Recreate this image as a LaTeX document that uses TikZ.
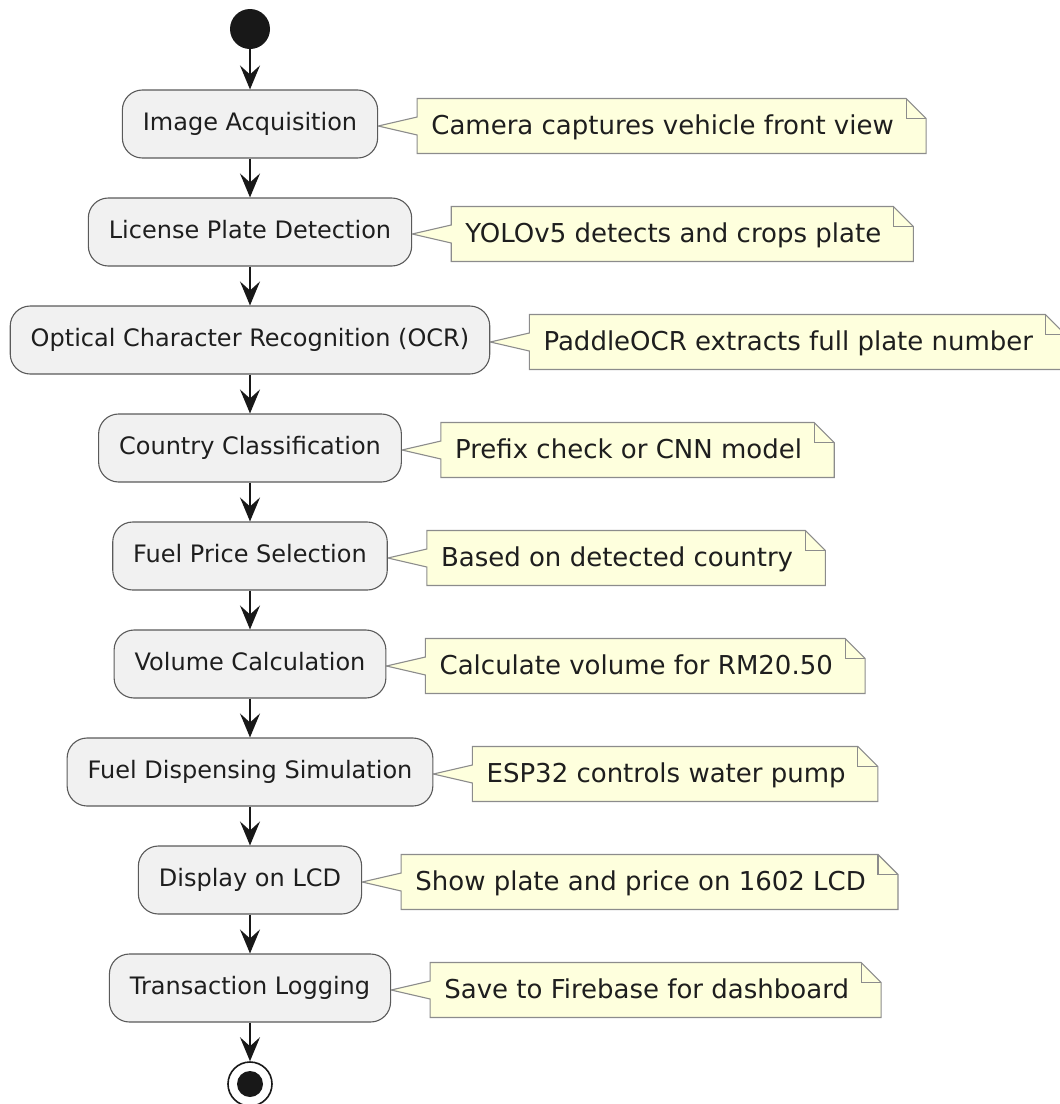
\documentclass[tikz,border=0pt]{standalone}
\usepackage{fontspec}
\setmainfont{DejaVu Sans}
\usetikzlibrary{arrows.meta,backgrounds}

\definecolor{actfill}{HTML}{F1F1F1}
\definecolor{actline}{HTML}{5A5A5A}
\definecolor{notefill}{HTML}{FEFFDD}
\definecolor{noteline}{HTML}{8C8C8C}
\definecolor{ink}{HTML}{181818}
\definecolor{txt}{HTML}{1E1E1E}

\tikzset{
  activity/.style={draw=actline, fill=actfill, line width=1.1pt,
    rounded corners=20pt, minimum height=68pt, inner xsep=20.5pt, inner ysep=0pt,
    font=\fontsize{24}{28}\selectfont, text=txt, text height=18.2pt, text depth=5.8pt},
  notetext/.style={inner sep=0pt, minimum height=54.6pt,
    font=\fontsize{26}{30}\selectfont, text=txt, text height=19.8pt, text depth=2.6pt},
  notebox/.style={draw=noteline, fill=notefill, line width=1.1pt, line join=miter},
  notefold/.style={draw=noteline, line width=1.1pt},
  flow/.style={draw=ink, line width=1.6pt, -{Stealth[length=24pt,width=20pt,inset=9pt]}},
  startdot/.style={circle, fill=ink, minimum size=40pt, inner sep=0pt},
  endring/.style={circle, draw=ink, fill=white, line width=1.6pt, minimum size=44pt, inner sep=0pt},
  enddot/.style={circle, fill=ink, minimum size=26pt, inner sep=0pt},
}

% #1 note name, #2 activity it is attached to, #3 note text
\newcommand{\flownote}[3]{%
  \node[notetext, anchor=west] (#1) at ([xshift=53pt,yshift=-2pt]#2.east) {#3};
  \begin{scope}[on background layer]
    \draw[notebox]
      ([xshift=-14pt]#1.north west) -- ([xshift=12pt]#1.north east)
      -- ([xshift=32pt,yshift=-20pt]#1.north east) -- ([xshift=32pt]#1.south east)
      -- ([xshift=-14pt]#1.south west) -- ([xshift=-14pt,yshift=-9pt]#1.west)
      -- (#2.east |- #1.west) -- ([xshift=-14pt,yshift=9pt]#1.west) -- cycle;
  \end{scope}
  \draw[notefold] ([xshift=12pt]#1.north east) -- ([xshift=12pt,yshift=-20pt]#1.north east)
    -- ([xshift=32pt,yshift=-20pt]#1.north east);
}

\begin{document}
\begin{tikzpicture}[x=1pt,y=-1pt]
\useasboundingbox (0,0) rectangle (1060,1104);

\node[startdot] (start) at (250,29) {};

\node[activity] (a1) at (250,124) {Image Acquisition};
\node[activity] (a2) at (250,232) {License Plate Detection};
\node[activity] (a3) at (250,340) {Optical Character Recognition (OCR)};
\node[activity] (a4) at (250,448) {Country Classification};
\node[activity] (a5) at (250,556) {Fuel Price Selection};
\node[activity] (a6) at (250,664) {Volume Calculation};
\node[activity] (a7) at (250,772) {Fuel Dispensing Simulation};
\node[activity] (a8) at (250,880) {Display on LCD};
\node[activity] (a9) at (250,988) {Transaction Logging};

\node[endring] (stop) at (250,1084) {};
\node[enddot] (stopdot) at (stop.center) {};

\draw[flow] (start) -- (a1);
\draw[flow] (a1) -- (a2);
\draw[flow] (a2) -- (a3);
\draw[flow] (a3) -- (a4);
\draw[flow] (a4) -- (a5);
\draw[flow] (a5) -- (a6);
\draw[flow] (a6) -- (a7);
\draw[flow] (a7) -- (a8);
\draw[flow] (a8) -- (a9);
\draw[flow] (a9) -- (stop);

\flownote{n1}{a1}{Camera captures vehicle front view}
\flownote{n2}{a2}{YOLOv5 detects and crops plate}
\flownote{n3}{a3}{PaddleOCR extracts full plate number}
\flownote{n4}{a4}{Prefix check or CNN model}
\flownote{n5}{a5}{Based on detected country}
\flownote{n6}{a6}{Calculate volume for RM20.50}
\flownote{n7}{a7}{ESP32 controls water pump}
\flownote{n8}{a8}{Show plate and price on 1602 LCD}
\flownote{n9}{a9}{Save to Firebase for dashboard}
\end{tikzpicture}
\end{document}
